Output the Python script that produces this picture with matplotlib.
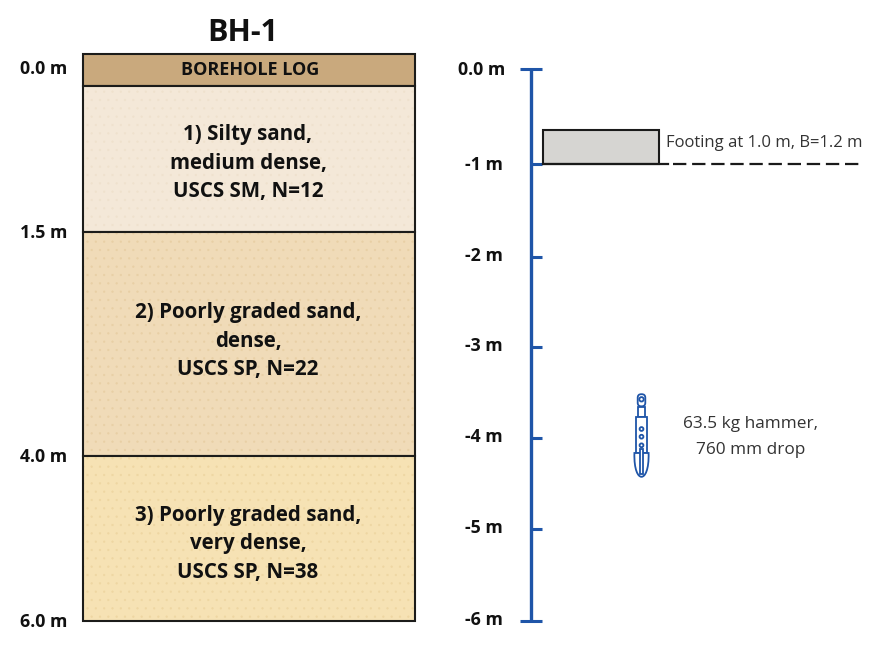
import numpy as np
import matplotlib
matplotlib.use("Agg")
import matplotlib.pyplot as plt
from matplotlib.patches import Rectangle, Circle, FancyBboxPatch, PathPatch
from matplotlib.path import Path

plt.rcParams['font.family'] = ['Open Sans', 'DejaVu Sans']
plt.rcParams['hatch.linewidth'] = 0.4

# borehole log data
layer_tops = [0.0, 1.5, 4.0]
layer_bottoms = [1.5, 4.0, 6.0]
layer_labels = ["1) Silty sand,\nmedium dense,\nUSCS SM, N=12",
                "2) Poorly graded sand,\ndense,\nUSCS SP, N=22",
                "3) Poorly graded sand,\nvery dense,\nUSCS SP, N=38"]
layer_colors = ['#f4e8d8', '#f0dbb8', '#f6e2b4']
grain_colors = ['#efe1cd', '#e8cfa5', '#eed6a2']
log_depth_labels = ["0.0 m", "1.5 m", "4.0 m", "6.0 m"]
log_depths = [0.0, 1.5, 4.0, 6.0]

# depth axis data
axis_depths = [0, -1, -2, -3, -4, -5, -6]
axis_labels = ["0.0 m", "-1 m", "-2 m", "-3 m", "-4 m", "-5 m", "-6 m"]
footing_depth = -1.0

# the drawing is not to one scale, so depth goes through these (pixel rows)
log_rows = [86, 232, 456, 621]
axis_rows = [69, 164, 257, 347, 438, 529, 621]
label_rows = [163, 341, 544]


def log_y(depth):
    return np.interp(depth, log_depths, log_rows)


def axis_y(depth):
    return np.interp(-depth, [-d for d in axis_depths], axis_rows)


fig = plt.figure(figsize=(8.96, 6.72), dpi=100)
ax = fig.add_axes([0, 0, 1, 1])
ax.set_xlim(0, 896)
ax.set_ylim(672, 0)
ax.axis('off')

# 1. LEFT: THE LOG
ax.text(243, 33, "BH-1", fontsize=22, fontweight='bold', ha='center', va='center', color='#111111')

x0, x1 = 82.5, 415
ink = '#1c1c1a'
ax.add_patch(Rectangle((x0, 54), x1 - x0, 32, fc='#c9a97d', ec=ink, lw=1.5))
ax.text(250.5, 70, "BOREHOLE LOG", fontsize=13, fontweight='bold', ha='center', va='center', color='#111111')

for top, bottom, label, row, col, grain in zip(layer_tops, layer_bottoms, layer_labels, label_rows, layer_colors, grain_colors):
    y0, y1 = log_y(top), log_y(bottom)
    ax.add_patch(Rectangle((x0, y0), x1 - x0, y1 - y0, fc=col, ec='none'))
    ax.add_patch(Rectangle((x0, y0), x1 - x0, y1 - y0, fc='none', ec=grain, hatch='..', lw=0))
    ax.add_patch(Rectangle((x0, y0), x1 - x0, y1 - y0, fc='none', ec=ink, lw=1.5))
    ax.text(248, row, label, fontsize=14.8, fontweight='bold',
            ha='center', va='center', linespacing=1.45, color='#111111')

for depth, label in zip(log_depths, log_depth_labels):
    ax.text(67, log_y(depth) - (16.5 if depth == 0 else -1), label, fontsize=12.8, fontweight='bold',
            ha='right', va='center', color='#111111')

# 2. RIGHT: THE DEPTH AXIS
blue = '#1f55a8'
ax.plot([531, 531], [axis_y(0), axis_y(-6)], color=blue, lw=2.4, solid_capstyle='butt', zorder=3)
for depth, label in zip(axis_depths, axis_labels):
    y = axis_y(depth)
    left = 520 if depth in (0, -6) else 531
    ax.plot([left, 542], [y, y], color=blue, lw=2.2, solid_capstyle='butt', zorder=3)
    ax.text(505 if depth == 0 else 503, y + (1 if depth in (0, -1) else -1), label, fontsize=12.8, fontweight='bold',
            ha='right', va='center', color='#111111')

# footing
foot_y = axis_y(footing_depth)
ax.add_patch(Rectangle((543, 130), 116, foot_y - 130, fc='#d6d5d2', ec='#1a1a1a', lw=1.5, zorder=4))
ax.plot([543, 668], [foot_y, foot_y], color='#1a1a1a', lw=1.6, zorder=4)
ax.plot([673, 863], [foot_y, foot_y], color='#1a1a1a', lw=1.6, dashes=(6, 2.6), zorder=4)
ax.text(666, 143, "Footing at 1.0 m, B=1.2 m", fontsize=12, ha='left', va='center', color='#333333')

# hammer icon
icon = dict(fc='white', ec=blue, lw=1.3, zorder=4)
ax.add_patch(FancyBboxPatch((638.5, 395), 6, 10.5, boxstyle='round,pad=0.8,rounding_size=3.5', **icon))
ax.add_patch(Circle((641.5, 399.3), 2.2, **icon))
ax.add_patch(Rectangle((638.3, 406.5), 6.4, 10.2, **icon))
ax.add_patch(Rectangle((635.8, 416.7), 11.4, 36, **icon))
for hole_y in (429, 436.7, 445.3):
    ax.add_patch(Circle((641.5, hole_y), 1.9, **icon))
shoe = Path([(634.4, 453), (634.0, 470), (638, 476.8), (641.5, 476.8), (645, 476.8), (649, 470), (648.6, 453), (634.4, 453)],
            [Path.MOVETO, Path.CURVE4, Path.CURVE4, Path.CURVE4, Path.CURVE4, Path.CURVE4, Path.CURVE4, Path.CLOSEPOLY])
ax.add_patch(PathPatch(shoe, **icon))
ax.add_patch(Rectangle((640.4, 449), 2.2, 25, **icon))

ax.text(751, 437, "63.5 kg hammer,\n760 mm drop", fontsize=12.4, ha='center', va='center',
        linespacing=1.75, color='#333333')

fig.savefig("out.png", dpi=100)
